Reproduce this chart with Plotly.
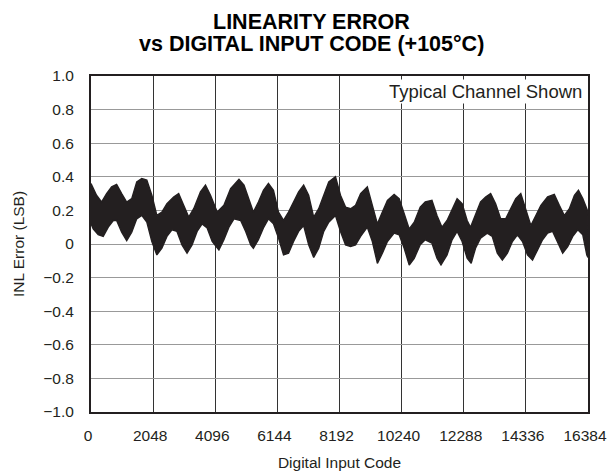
import plotly.graph_objects as go

# Envelope of the INL band
upper_code = [0, 182, 348, 514, 680, 845, 1011, 1177, 1343, 1508, 1674, 1840, 2006, 2171, 2337, 2503,
              2724, 2890, 3055, 3221, 3387, 3608, 3774, 3939, 4160, 4381, 4602, 4878, 5044, 5265,
              5352, 5518, 5684, 5849, 6015, 6181, 6347, 6512, 6678, 6844, 7010, 7175, 7341, 7507,
              7673, 7838, 8059, 8225, 8391, 8557, 8722, 8888, 9109, 9275, 9441, 9606, 9772, 9993,
              10159, 10325, 10490, 10656, 10853, 11019, 11240, 11406, 11571, 11737, 11903, 12069,
              12234, 12400, 12511, 12676, 12842, 13008, 13174, 13339, 13505, 13671, 13837, 14002,
              14168, 14334, 14500, 14665, 14831, 15052, 15273, 15439, 15605, 15770, 15936, 16069,
              16212, 16345, 16383]
upper_val = [0.36, 0.29, 0.25, 0.30, 0.34, 0.355, 0.30, 0.25, 0.27, 0.37, 0.39, 0.38, 0.29, 0.17, 0.19, 0.24,
             0.28, 0.30, 0.23, 0.16, 0.21, 0.31, 0.35, 0.29, 0.19, 0.23, 0.33, 0.385, 0.35, 0.23,
             0.19, 0.25, 0.32, 0.36, 0.32, 0.19, 0.14, 0.19, 0.25, 0.31, 0.35, 0.29, 0.16, 0.21,
             0.29, 0.37, 0.40, 0.29, 0.22, 0.21, 0.23, 0.30, 0.34, 0.23, 0.12, 0.19, 0.26, 0.295,
             0.27, 0.18, 0.09, 0.13, 0.22, 0.25, 0.26, 0.17, 0.10, 0.14, 0.21, 0.27,
             0.24, 0.14, 0.10, 0.18, 0.25, 0.28, 0.30, 0.24, 0.15, 0.15, 0.21, 0.27,
             0.30, 0.21, 0.11, 0.17, 0.23, 0.28, 0.295, 0.23, 0.17, 0.21, 0.29, 0.32,
             0.27, 0.21, 0.19]

lower_code = [0, 72, 238, 403, 569, 735, 845, 1011, 1177, 1343, 1508, 1674, 1840, 2006, 2171, 2337,
              2503, 2669, 2834, 3000, 3166, 3332, 3498, 3663, 3829, 3995, 4216, 4381, 4547, 4713,
              4934, 5099, 5265, 5352, 5518, 5684, 5849, 6015, 6181, 6347, 6512, 6678, 6844, 7010,
              7175, 7341, 7507, 7673, 7838, 8059, 8225, 8391, 8557, 8722, 8888, 9109, 9275, 9441,
              9606, 9772, 9993, 10159, 10325, 10490, 10656, 10853, 11019, 11240, 11406, 11538,
              11737, 11903, 12069, 12234, 12400, 12533, 12676, 12842, 13063, 13229, 13395, 13560,
              13726, 13892, 14058, 14224, 14389, 14555, 14721, 14886, 15052, 15218, 15384, 15549,
              15715, 15881, 16047, 16212, 16345, 16383]
lower_val = [0.12, 0.09, 0.055, 0.045, 0.10, 0.14, 0.14, 0.07, 0.02, 0.07, 0.15, 0.17, 0.13, 0.015, -0.065, -0.025,
             0.045, 0.085, 0.075, -0.005, -0.055, -0.005, 0.075, 0.12, 0.095, 0.015, -0.035, 0.025, 0.10, 0.15,
             0.14, 0.075, -0.005, -0.025, 0.025, 0.095, 0.15, 0.12, 0.035, -0.065, -0.055, 0.015, 0.075, 0.11,
             -0.005, -0.08, -0.025, 0.075, 0.13, 0.17, 0.075, -0.005, -0.015, -0.005, 0.045, 0.10, 0.015, -0.115,
             -0.055, 0.015, 0.065, 0.055, -0.025, -0.125, -0.085, -0.005, 0.025, 0.005, -0.085, -0.125,
             -0.065, 0.025, 0.075, 0.015, -0.085, -0.115, -0.025, 0.035, 0.065, 0.045, -0.055, -0.095,
             -0.055, 0.015, 0.055, 0.015, -0.065, -0.095, -0.035, 0.025, 0.065, 0.075, 0.015, -0.055,
             -0.015, 0.045, 0.085, 0.055, -0.065, -0.08]

x_ticks = [0, 2048, 4096, 6144, 8192, 10240, 12288, 14336, 16384]
x_labels = ["0", "2048", "4096", "6144", "8192", "10240", "12288", "14336", "16384"]
y_ticks = [1.0, 0.8, 0.6, 0.4, 0.2, 0, -0.2, -0.4, -0.6, -0.8, -1.0]
y_labels = ["1.0", "0.8", "0.6", "0.4", "0.2", "0", "\u22120.2", "\u22120.4", "\u22120.6", "\u22120.8", "\u22121.0"]

title_lines = ["LINEARITY ERROR", "vs DIGITAL INPUT CODE (+105°C)"]
note_text = "Typical Channel Shown"

FONT = "Liberation Sans, Arial, sans-serif"
INK = "#231f20"

fig = go.Figure()
fig.add_trace(go.Scatter(
    x=upper_code + lower_code[::-1],
    y=upper_val + lower_val[::-1],
    fill="toself", fillcolor=INK, mode="lines",
    line=dict(color=INK, width=1.4), hoverinfo="skip", showlegend=False,
))

annotations = [
    dict(text="<b>%s</b>" % title_lines[0], x=0.443, xref="paper", xanchor="center",
         y=1.162, yref="paper", yanchor="middle", showarrow=False,
         font=dict(family=FONT, size=21.5, color="black")),
    dict(text="<b>%s</b>" % title_lines[1], x=0.443, xref="paper", xanchor="center",
         y=1.094, yref="paper", yanchor="middle", showarrow=False,
         font=dict(family=FONT, size=21.5, color="black")),
    dict(text=note_text, x=1, xref="paper", xanchor="right",
         y=1, yref="paper", yanchor="top", showarrow=False,
         bgcolor="white", xshift=-4, yshift=-3, borderpad=1,
         font=dict(family=FONT, size=18.5, color=INK)),
]

fig.update_layout(
    width=614, height=472,
    margin=dict(l=91, r=26, t=76, b=60, autoexpand=False),
    paper_bgcolor="white", plot_bgcolor="white",
    font=dict(family=FONT, size=15.5, color=INK),
    showlegend=False,
    annotations=annotations,
)
fig.update_xaxes(range=[0, 16384], tickvals=x_ticks, ticktext=x_labels,
                 showgrid=True, gridcolor="#333333", gridwidth=1, automargin=False,
                 zeroline=False, showline=True, linecolor=INK, linewidth=2, mirror=True,
                 ticks="", ticklabelstandoff=8, ticklabelshift=-3,
                 title=dict(text="Digital Input Code", standoff=15, font=dict(size=15.5)))
fig.update_yaxes(range=[-1.0, 1.0], tickvals=y_ticks, ticktext=y_labels,
                 showgrid=True, gridcolor="#999999", gridwidth=1, automargin=False,
                 zeroline=False, showline=True, linecolor=INK, linewidth=2, mirror=True,
                 ticks="", ticklabelstandoff=12,
                 title=dict(text="INL Error (LSB)", standoff=15, font=dict(size=15.5)))

fig.write_html("out.html", config={"displayModeBar": False},
               post_script="document.body.style.margin='0';document.body.style.overflow='hidden';")
